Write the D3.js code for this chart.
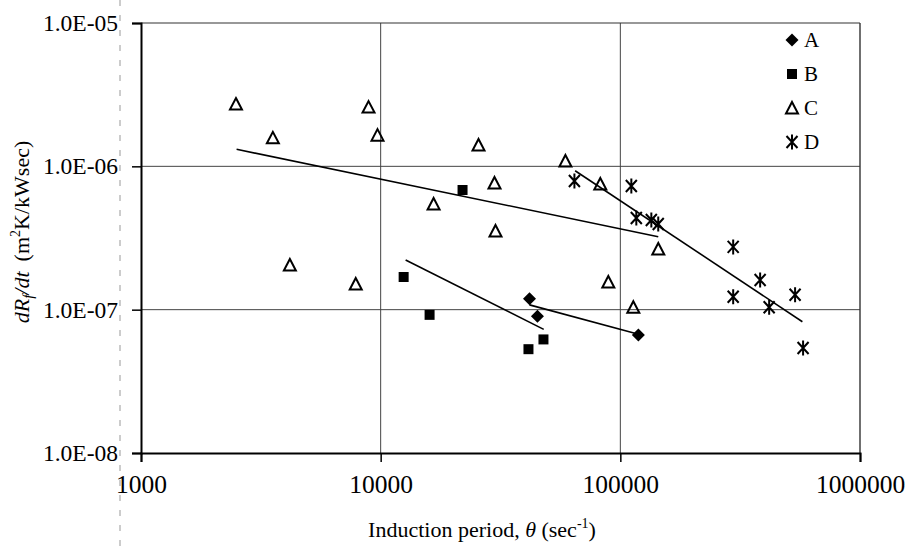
<!DOCTYPE html>
<html><head><meta charset="utf-8">
<script src="https://cdn.jsdelivr.net/npm/d3@7"></script>
<style>body{margin:0;background:#fff}</style>
</head><body><svg id="c" width="908" height="553"></svg>
<script>
// ---- data ----
const xTicks = [1000, 10000, 100000, 1000000];
const xTickLabels = ["1000", "10000", "100000", "1000000"];
const yTicks = [1e-8, 1e-7, 1e-6, 1e-5];
const yTickLabels = ["1.0E-08", "1.0E-07", "1.0E-06", "1.0E-05"];
const seriesNames = ["A", "B", "C", "D"];

const aX = [41780, 45100, 118900];
const aY = [1.19e-7, 9.0e-8, 6.65e-8];
const bX = [12470, 16000, 21960, 41370, 47780];
const bY = [1.69e-7, 9.2e-8, 6.84e-7, 5.3e-8, 6.2e-8];
const cX = [2490, 3550, 4180, 7870, 8900, 9700, 16630, 25600, 29850, 30140, 59000, 82500, 89100, 113300, 144000];
const cY = [2.72e-6, 1.58e-6, 2.05e-7, 1.51e-7, 2.59e-6, 1.65e-6, 5.46e-7, 1.41e-6, 7.65e-7, 3.54e-7, 1.09e-6, 7.53e-7, 1.56e-7, 1.04e-7, 2.65e-7];
const dX = [64330, 111150, 116600, 134700, 143950, 295700, 383100, 295700, 536000, 417800, 578800];
const dY = [7.9e-7, 7.29e-7, 4.36e-7, 4.22e-7, 3.96e-7, 2.74e-7, 1.61e-7, 1.23e-7, 1.27e-7, 1.04e-7, 5.4e-8];

// trend lines (endpoints)
const trendAX = [41780, 118000], trendAY = [1.08e-7, 6.76e-8];
const trendBX = [12710, 47900], trendBY = [2.22e-7, 7.29e-8];
const trendCX = [2505, 143950], trendCY = [1.315e-6, 3.23e-7];
const trendDX = [64770, 575000], trendDY = [9.32e-7, 8.24e-8];

// ---- chart ----
const svg = d3.select("#c");
const L = 141, R = 860, T = 23, B = 453;
const x = d3.scaleLog().domain([1000, 1e6]).range([L, R]);
const y = d3.scaleLog().domain([1e-8, 1e-5]).range([B, T]);
const font = "'Liberation Serif','Times New Roman',serif";

// scan artifact dashed line at left
svg.append("line").attr("x1", 120).attr("x2", 120).attr("y1", 0).attr("y2", 553)
  .attr("stroke", "#999").attr("stroke-width", 1).attr("stroke-dasharray", "6,9");

// gridlines
const g = svg.append("g");
g.selectAll(".hg").data(yTicks.slice(1, 3)).join("line")
  .attr("x1", L).attr("x2", R).attr("y1", d => y(d)).attr("y2", d => y(d))
  .attr("stroke", "#444").attr("stroke-width", 1);
g.selectAll(".vg").data(xTicks.slice(1, 3)).join("line")
  .attr("y1", T).attr("y2", B).attr("x1", d => x(d)).attr("x2", d => x(d))
  .attr("stroke", "#444").attr("stroke-width", 1);
// top/right border
svg.append("line").attr("x1", L).attr("x2", R).attr("y1", T).attr("y2", T).attr("stroke", "#333").attr("stroke-width", 1.2);
svg.append("line").attr("x1", R).attr("x2", R).attr("y1", T).attr("y2", B).attr("stroke", "#333").attr("stroke-width", 1.4);

// axes
const xAxis = d3.axisBottom(x).tickValues(xTicks).tickFormat((d, i) => xTickLabels[i]).tickSizeOuter(0).tickSize(9).tickPadding(13);
const yAxis = d3.axisLeft(y).tickValues(yTicks).tickFormat((d, i) => yTickLabels[i]).tickSizeOuter(0).tickSize(9).tickPadding(14);
const gx = svg.append("g").attr("transform", `translate(0,${B})`).call(xAxis);
const gy = svg.append("g").attr("transform", `translate(${L},0)`).call(yAxis);
[gx, gy].forEach(a => {
  a.select(".domain").attr("stroke", "#000").attr("stroke-width", 2);
  a.selectAll(".tick line").attr("stroke", "#000").attr("stroke-width", 1.5);
  a.selectAll(".tick text").attr("font-family", font).attr("fill", "#000");
});
gx.selectAll(".tick text").attr("font-size", 25.5);
gy.selectAll(".tick text").attr("font-size", 23.5);

// trend lines
const line = d3.line().x(d => x(d[0])).y(d => y(d[1]));
[[trendAX, trendAY], [trendBX, trendBY], [trendCX, trendCY], [trendDX, trendDY]].forEach(([xs, ys]) => {
  svg.append("path").attr("d", line(d3.zip(xs, ys))).attr("fill", "none").attr("stroke", "#000").attr("stroke-width", 1.6);
});

// markers
const shapes = {
  A: { d: "M0,-6.5L6.5,0L0,6.5L-6.5,0Z", fill: "#000", stroke: "none", sw: 0 },
  B: { d: "M-5,-5H5V5H-5Z", fill: "#000", stroke: "none", sw: 0 },
  C: { d: "M0,-6L6,5.5L-6,5.5Z", fill: "none", stroke: "#000", sw: 2 },
  D: { d: "M0,-7.5V7.5M-5.5,-6L5.5,6M5.5,-6L-5.5,6", fill: "none", stroke: "#000", sw: 2 }
};
const series = [[aX, aY], [bX, bY], [cX, cY], [dX, dY]];
series.forEach(([xs, ys], i) => {
  const s = shapes[seriesNames[i]];
  svg.append("g").selectAll("path").data(d3.zip(xs, ys)).join("path")
    .attr("transform", d => `translate(${x(d[0])},${y(d[1])})`)
    .attr("d", s.d).attr("fill", s.fill).attr("stroke", s.stroke).attr("stroke-width", s.sw);
});

// legend
const lg = svg.append("g");
seriesNames.forEach((n, i) => {
  const s = shapes[n];
  const yy = 40 + i * 34;
  lg.append("path").attr("transform", `translate(792,${yy})`).attr("d", s.d)
    .attr("fill", s.fill).attr("stroke", s.stroke).attr("stroke-width", s.sw);
  lg.append("text").attr("x", 804).attr("y", yy + 7).attr("font-family", font).attr("font-size", 21).text(n);
});

// x title
const xt = svg.append("text").attr("x", 482).attr("y", 537).attr("text-anchor", "middle")
  .attr("font-family", font).attr("font-size", 22);
xt.append("tspan").text("Induction period, ");
xt.append("tspan").attr("font-style", "italic").text("θ");
xt.append("tspan").text(" (sec");
xt.append("tspan").attr("font-size", 14).attr("dy", -9).text("-1");
xt.append("tspan").attr("dy", 9).text(")");

// y title
const yt = svg.append("text").attr("transform", "translate(29,232) rotate(-90)").attr("text-anchor", "middle")
  .attr("font-family", font).attr("font-size", 22);
yt.append("tspan").attr("font-style", "italic").text("dR");
yt.append("tspan").attr("font-style", "italic").attr("font-size", 15).attr("dy", 4).text("f");
yt.append("tspan").attr("font-style", "italic").attr("dy", -4).text("/dt");
yt.append("tspan").attr("dx", 10).text("(m");
yt.append("tspan").attr("font-size", 14).attr("dy", -9).text("2");
yt.append("tspan").attr("dy", 9).text("K/kWsec)");
</script></body></html>
